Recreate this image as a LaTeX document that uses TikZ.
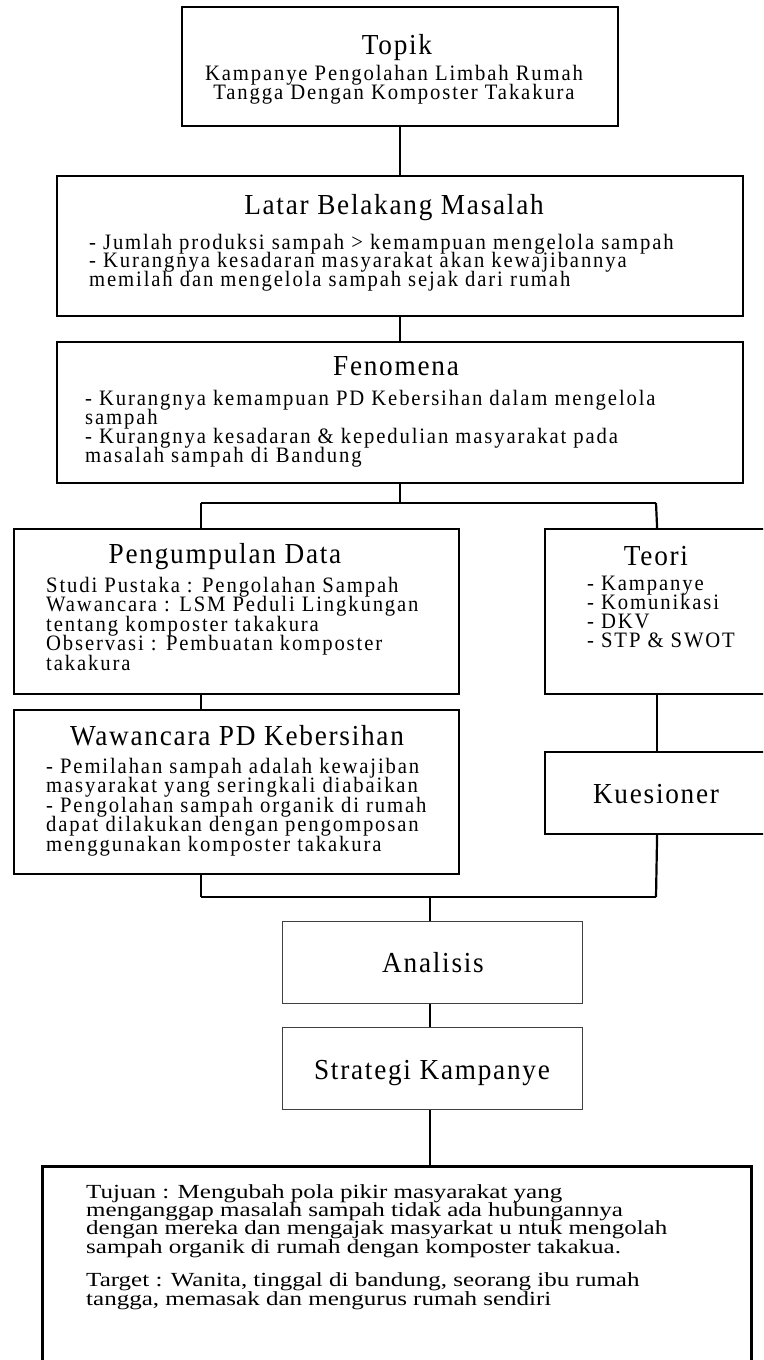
\documentclass[tikz,border=0pt]{standalone}
\usepackage{fontspec}
\setmainfont{Liberation Serif}
\newfontfamily\spc[LetterSpace=8.5,FakeStretch=0.94]{Liberation Serif}
\newfontfamily\spt[LetterSpace=6,FakeStretch=0.94]{Liberation Serif}
\newfontfamily\strt[FakeStretch=1.25]{Liberation Serif}
\newcommand\tightlns{\lineskiplimit=-100pt\relax\lineskip=0pt\relax}
\begin{document}
\begin{tikzpicture}[x=1pt,y=-1pt,
  box/.style={draw=black, line width=2.2pt, inner sep=0pt, anchor=north west},
  lbox/.style={draw=black!75, line width=1.3pt, inner sep=0pt, anchor=north west},
  bbox/.style={draw=black, line width=3pt, inner sep=0pt, anchor=north west},
  ttl/.style={font=\spt\fontsize{29}{32}\selectfont, inner sep=0pt, anchor=base},
  bdy/.style={font=\spc\fontsize{22}{#1}\selectfont\tightlns, align=left, anchor=base west, inner sep=0pt},
  bdy/.default=19.5,
  bot/.style={font=\strt\fontsize{20}{18.3}\selectfont\tightlns, align=left, anchor=base west, inner sep=0pt},
  con/.style={draw=black, line width=2.2pt}]
\useasboundingbox (0,0) rectangle (763,1360);
\fill[white] (0,0) rectangle (763,1360);
\clip (0,0) rectangle (763,1360);

% boxes
\node[box, minimum width=436pt, minimum height=119pt] (topik) at (181,6) {};
\node[box, minimum width=686pt, minimum height=140pt] (latar) at (56,175) {};
\node[box, minimum width=686pt, minimum height=141pt] (fen) at (56,341) {};
\node[box, minimum width=445pt, minimum height=165pt] (peng) at (13,528) {};
\node[box, minimum width=445pt, minimum height=164pt] (waw) at (13,709) {};
\node[box, minimum width=224pt, minimum height=165pt] (teori) at (544,528) {};
\node[box, minimum width=224pt, minimum height=82pt] (kues) at (544,751) {};
\node[lbox, minimum width=300pt, minimum height=82pt] (ana) at (282,921) {};
\node[lbox, minimum width=300pt, minimum height=82pt] (strat) at (282,1027) {};
\node[bbox, minimum width=709pt, minimum height=260pt] (tuj) at (41,1165) {};

% texts (multi-line nodes are placed by the baseline of their last line)
\node[ttl] (t1) at (397,54) {Topik};
\node[font=\spc\fontsize{22}{19}\selectfont\tightlns, align=center, inner sep=0pt, anchor=base] (t1b) at (394,99)
  {Kampanye Pengolahan Limbah Rumah\\Tangga Dengan Komposter Takakura};

\node[ttl] (t2) at (394,214) {Latar Belakang Masalah};
\node[bdy=18.5] (t2b) at (89,286) {- Jumlah produksi sampah > kemampuan mengelola sampah\\
- Kurangnya kesadaran masyarakat akan kewajibannya\\
memilah dan mengelola sampah sejak dari rumah};

\node[ttl] (t3) at (396,375) {Fenomena};
\node[bdy=19] (t3b) at (85,462) {- Kurangnya kemampuan PD Kebersihan dalam mengelola\\
sampah\\
- Kurangnya kesadaran \& kepedulian masyarakat pada\\
masalah sampah di Bandung};

\node[ttl] (t4) at (225,563) {Pengumpulan Data};
\node[bdy] (t4b) at (46,670) {Studi Pustaka : Pengolahan Sampah\\
Wawancara : LSM Peduli Lingkungan\\
tentang komposter takakura\\
Observasi : Pembuatan komposter\\
takakura};

\node[ttl] (t5) at (237,745) {Wawancara PD Kebersihan};
\node[bdy] (t5b) at (46,851) {- Pemilahan sampah adalah kewajiban\\
masyarakat yang seringkali diabaikan\\
- Pengolahan sampah organik di rumah\\
dapat dilakukan dengan pengomposan\\
menggunakan komposter takakura};

\node[ttl] (t6) at (656,565) {Teori};
\node[bdy=19] (t6b) at (587,647) {- Kampanye\\
- Komunikasi\\
- DKV\\
- STP \& SWOT};

\node[ttl] (t7) at (656,803) {Kuesioner};
\node[ttl] (t8) at (433,972) {Analisis};
\node[ttl] (t9) at (432,1079) {Strategi Kampanye};

\node[bot] (t10) at (86,1253) {Tujuan : Mengubah pola pikir masyarakat yang\\
menganggap masalah sampah tidak ada hubungannya\\
dengan mereka dan mengajak masyarkat u ntuk mengolah\\
sampah organik di rumah dengan komposter takakua.};
\node[bot] (t11) at (86,1305) {Target : Wanita, tinggal di bandung, seorang ibu rumah\\
tangga, memasak dan mengurus rumah sendiri};

% connectors
\coordinate (jL) at (201,503);
\coordinate (jR) at (656,503);
\coordinate (kL) at (201,897);
\coordinate (kR) at (656,897);
\coordinate (kM) at (430,897);

\draw[con] (topik.south) -- (latar.north);
\draw[con] (latar.south) -- (fen.north);
\draw[con] (fen.south) -- (fen.south |- jL);
\draw[con] (jL) -- (jR);
\draw[con] (jL) -- (jL |- peng.north);
\draw[con] (jR) -- (teori.north);
\draw[con] (jL |- peng.south) -- (jL |- waw.north);
\draw[con] (teori.south) -- (kues.north);
\draw[con] (jL |- waw.south) -- (kL);
\draw[con] (kues.south) -- (kR);
\draw[con] (kL) -- (kR);
\draw[con] (kM) -- (kM |- ana.north);
\draw[con] (kM |- ana.south) -- (kM |- strat.north);
\draw[con] (kM |- strat.south) -- (kM |- tuj.north);
\end{tikzpicture}
\end{document}
